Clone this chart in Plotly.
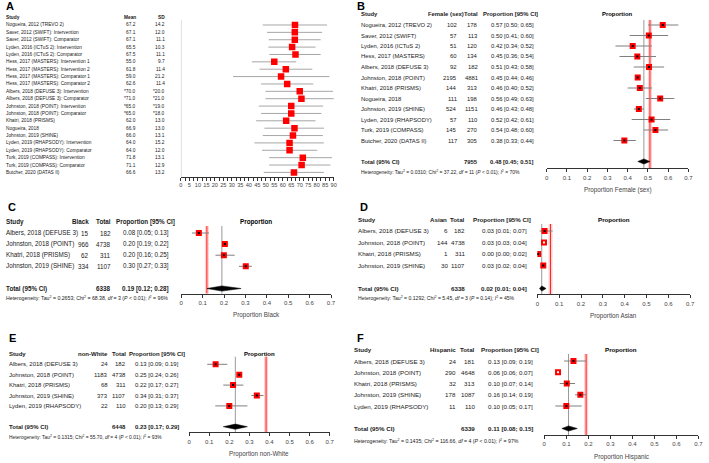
import plotly.graph_objects as go

W, H = 709, 463
FONT = "Liberation Sans, Arial, sans-serif"

# ---------------- Panel A: age (mean, SD) ----------------
a_studies = ["Nogueira, 2012 (TREVO 2)", "Saver, 2012 (SWIFT): Intervention", "Saver, 2012 (SWIFT): Comparator",
             "Lyden, 2016 (ICTuS 2): Intervention", "Lyden, 2016 (ICTuS 2): Comparator",
             "Hess, 2017 (MASTERS): Intervention 1", "Hess, 2017 (MASTERS): Intervention 2",
             "Hess, 2017 (MASTERS): Comparator 1", "Hess, 2017 (MASTERS): Comparator 2",
             "Albers, 2018 (DEFUSE 3): Intervention", "Albers, 2018 (DEFUSE 3): Comparator",
             "Johnston, 2018 (POINT): Intervention", "Johnston, 2018 (POINT): Comparator",
             "Khatri, 2018 (PRISMS)", "Nogueira, 2018", "Johnston, 2019 (SHINE)",
             "Lyden, 2019 (RHAPSODY): Intervention", "Lyden, 2019 (RHAPSODY): Comparator",
             "Turk, 2019 (COMPASS): Intervention", "Turk, 2019 (COMPASS): Comparator", "Butcher, 2020 (DATAS II)"]
a_mean = [67.2, 67.1, 67.1, 65.5, 67.5, 55.0, 61.8, 59.0, 62.6, 70.0, 71.0, 65.0, 65.0, 62.0, 66.9, 66.0,
          64.0, 64.0, 71.8, 71.1, 66.6]
a_sd = [14.2, 12.0, 11.1, 10.3, 11.1, 9.7, 11.4, 21.2, 11.4, 20.0, 21.0, 19.0, 18.0, 13.0, 13.0, 13.1,
        15.2, 12.0, 13.1, 12.9, 13.2]
a_estimated = [False] * 9 + [True] * 4 + [False] * 8
a_low = [48.2, 50.7, 51.7, 51.5, 52.1, 41.8, 46.3, 30.7, 47.2, 49.8, 49.8, 45.9, 47.2, 44.3, 49.2, 48.2,
         43.3, 47.8, 52.0, 52.0, 48.8]
a_high = [86.1, 83.2, 82.3, 79.3, 82.3, 67.9, 77.4, 87.5, 78.0, 89.6, 92.0, 83.8, 82.8, 79.3, 84.2, 83.6,
          84.2, 80.3, 89.0, 88.1, 84.2]
a_ticks = [i * 2.5 for i in range(37)]

# ---------------- Panel B: female ----------------
b_studies = ["Nogueira, 2012 (TREVO 2)", "Saver, 2012 (SWIFT)", "Lyden, 2016 (ICTuS 2)", "Hess, 2017 (MASTERS)",
             "Albers, 2018 (DEFUSE 3)", "Johnston, 2018 (POINT)", "Khatri, 2018 (PRISMS)", "Nogueira, 2018",
             "Johnston, 2019 (SHINE)", "Lyden, 2019 (RHAPSODY)", "Turk, 2019 (COMPASS)", "Butcher, 2020 (DATAS II)"]
b_events = [102, 57, 51, 60, 92, 2195, 144, 111, 524, 57, 145, 117]
b_total = [178, 113, 120, 134, 182, 4881, 313, 198, 1151, 110, 270, 305]
b_prop = [0.57, 0.50, 0.42, 0.45, 0.51, 0.45, 0.46, 0.56, 0.46, 0.52, 0.54, 0.38]
b_low = [0.50, 0.41, 0.34, 0.36, 0.43, 0.44, 0.40, 0.49, 0.43, 0.42, 0.48, 0.33]
b_high = [0.65, 0.60, 0.52, 0.54, 0.58, 0.46, 0.52, 0.63, 0.48, 0.61, 0.60, 0.44]
b_summary = dict(n=7955, est=0.48, lo=0.45, hi=0.51, tau2="0.0310", chi2="37.22", df=11, p="&lt; 0.01", i2=70)

# ---------------- Panel C: Black ----------------
c_studies = ["Albers, 2018 (DEFUSE 3)", "Johnston, 2018 (POINT)", "Khatri, 2018 (PRISMS)", "Johnston, 2019 (SHINE)"]
c_events = [15, 966, 62, 334]
c_total = [182, 4738, 311, 1107]
c_prop = [0.08, 0.20, 0.20, 0.30]
c_low = [0.05, 0.19, 0.16, 0.27]
c_high = [0.13, 0.22, 0.25, 0.33]
c_summary = dict(n=6338, est=0.19, lo=0.12, hi=0.28, tau2="0.2653", chi2="68.38", df=3, p="&lt; 0.01", i2=96)

# ---------------- Panel D: Asian ----------------
d_studies = ["Albers, 2018 (DEFUSE 3)", "Johnston, 2018 (POINT)", "Khatri, 2018 (PRISMS)", "Johnston, 2019 (SHINE)"]
d_events = [6, 144, 1, 30]
d_total = [182, 4738, 311, 1107]
d_prop = [0.03, 0.03, 0.00, 0.03]
d_low = [0.01, 0.03, 0.00, 0.02]
d_high = [0.07, 0.04, 0.02, 0.04]
d_summary = dict(n=6338, est=0.02, lo=0.01, hi=0.04, tau2="0.1292", chi2="5.45", df=3, p="= 0.14", i2=45)

# ---------------- Panel E: non-White ----------------
e_studies = ["Albers, 2018 (DEFUSE 3)", "Johnston, 2018 (POINT)", "Khatri, 2018 (PRISMS)", "Johnston, 2019 (SHINE)",
             "Lyden, 2019 (RHAPSODY)"]
e_events = [24, 1183, 68, 373, 22]
e_total = [182, 4738, 311, 1107, 110]
e_prop = [0.13, 0.25, 0.22, 0.34, 0.20]
e_low = [0.09, 0.24, 0.17, 0.31, 0.13]
e_high = [0.19, 0.26, 0.27, 0.37, 0.29]
e_summary = dict(n=6448, est=0.23, lo=0.17, hi=0.29, tau2="0.1315", chi2="55.70", df=4, p="&lt; 0.01", i2=93)

# ---------------- Panel F: Hispanic ----------------
f_studies = ["Albers, 2018 (DEFUSE 3)", "Johnston, 2018 (POINT)", "Khatri, 2018 (PRISMS)", "Johnston, 2019 (SHINE)",
             "Lyden, 2019 (RHAPSODY)"]
f_events = [24, 290, 32, 178, 11]
f_total = [181, 4648, 313, 1087, 110]
f_prop = [0.13, 0.06, 0.10, 0.16, 0.10]
f_low = [0.09, 0.06, 0.07, 0.14, 0.05]
f_high = [0.19, 0.07, 0.14, 0.19, 0.17]
f_summary = dict(n=6339, est=0.11, lo=0.08, hi=0.15, tau2="0.1435", chi2="116.66", df=4, p="&lt; 0.01", i2=97)

# reference (population) proportions shown as red lines
ref_values = {"B": 0.51, "C": 0.12, "D": 0.06, "E": 0.383, "F": 0.19}
prop_ticks = [0, 0.1, 0.2, 0.3, 0.4, 0.5, 0.6, 0.7]

# ---------------- layout geometry (pixels) ----------------
geo = {
    "A": dict(x0=180.7, x1=335.0, xmax=90, r1=25.0, sp=7.37, top=20.0, axis=176.7),
    "B": dict(x0=550.0, x1=693.3, xmax=0.7, r1=25.0, sp=10.5, top=20.0, axis=168.3, het=171.7,
              study=361, cnt=462, cnth=469, tot=482.5, prop=539.5, proph=543.5, fs=5.9, hfs=5.0,
              letter=(357, 5.5)),
    "C": dict(x0=181.0, x1=332.3, xmax=0.7, r1=233.0, sp=11.1, top=226.0, axis=293.7, het=297.7,
              study=2, cnt=90, cnth=90, tot=112, prop=171, proph=177, fs=6.3, hfs=5.2, letter=(4, 207)),
    "D": dict(x0=540.7, x1=695.0, xmax=0.7, r1=231.0, sp=11.5, top=224.0, axis=294.3, het=298.3,
              study=358, cnt=452, cnth=451, tot=470, prop=532, proph=536, fs=6.2, hfs=5.1, letter=(360, 207)),
    "E": dict(x0=189.0, x1=331.0, xmax=0.7, r1=364.3, sp=10.4, top=356.7, axis=432.3, het=436.7,
              study=5, cnt=109, cnth=109.5, tot=127, prop=181, proph=187, fs=6.0, hfs=4.9, letter=(5, 337.5)),
    "F": dict(x0=547.7, x1=703.3, xmax=0.7, r1=361.0, sp=11.25, top=354.0, axis=435.0, het=441.0,
              study=353, cnt=461, cnth=461, tot=480, prop=538, proph=544, fs=6.2, hfs=5.2, letter=(357, 337.5)),
}

def row_at(g, px):
    return (px - g["r1"]) / g["sp"] + 1

def dom_top(g):
    return g["r1"] - 1.6 * g["sp"]

fig = go.Figure()
annotations = []
shapes = []
layout_axes = {}

def axis_names(i):
    s = "" if i == 1 else str(i)
    return "x" + s, "y" + s, "xaxis" + s, "yaxis" + s

def add_text(text, xpx, yref, y, anchor="left", size=6.0, bold=False, color="#1a1a1a"):
    if bold:
        text = "<b>" + text + "</b>"
    annotations.append(dict(text=text, x=xpx / W, xref="paper", y=y, yref=yref, xanchor=anchor,
                            yanchor="middle", showarrow=False, font=dict(family=FONT, size=size, color=color)))

def setup_axes(i, g, tickvals, ticktext, tfs):
    xr, yr, xa, ya = axis_names(i)
    layout_axes[xa] = dict(domain=[g["x0"] / W, g["x1"] / W], range=[0, g["xmax"]], anchor=yr,
                           showline=True, linecolor="#333333", linewidth=1, ticks="outside", ticklen=3,
                           tickwidth=1, tickcolor="#333333", tickvals=tickvals, ticktext=ticktext,
                           tickfont=dict(family=FONT, size=tfs, color="#444444"), showgrid=False,
                           zeroline=False, fixedrange=True)
    layout_axes[ya] = dict(domain=[1 - g["axis"] / H, 1 - dom_top(g) / H],
                           range=[row_at(g, g["axis"]), row_at(g, dom_top(g))], anchor=xr,
                           showticklabels=False, ticks="", showgrid=False, zeroline=False,
                           showline=False, fixedrange=True)
    return xr, yr

def vline(xr, yr, g, xval, color, width):
    shapes.append(dict(type="line", xref=xr, yref=yr, x0=xval, x1=xval, y0=row_at(g, g["top"]),
                       y1=row_at(g, g["axis"]), line=dict(color=color, width=width), layer="below"))

# ---------- Panel A ----------
gA = geo["A"]
xr, yr = setup_axes(1, gA, a_ticks, [("%g" % v) if v % 5 == 0 else "" for v in a_ticks], 5.6)
vline(xr, yr, gA, 0, "#bbbbbb", 1)
rowsA = list(range(1, len(a_studies) + 1))
cx, cy = [], []
for r, lo, hi in zip(rowsA, a_low, a_high):
    cx += [lo, hi, None]
    cy += [r, r, None]
fig.add_trace(go.Scatter(x=cx, y=cy, xaxis=xr, yaxis=yr, mode="lines",
                         line=dict(color="#a6a6a6", width=1), hoverinfo="skip", showlegend=False))
fig.add_trace(go.Scatter(x=a_mean, y=rowsA, xaxis=xr, yaxis=yr, mode="markers",
                         marker=dict(symbol="square", size=6.5, color="#ff0000", line=dict(width=0)),
                         showlegend=False))
fsA = 4.8
add_text("Study", 2, yr, 0, size=fsA, bold=True)
add_text("Mean", 137, yr, 0, anchor="right", size=fsA, bold=True)
add_text("SD", 167, yr, 0, anchor="right", size=fsA, bold=True)
for r, s, m, sd, est in zip(rowsA, a_studies, a_mean, a_sd, a_estimated):
    star = "*" if est else ""
    add_text(s, 2, yr, r, size=fsA)
    add_text(star + "%.1f" % m, 137, yr, r, anchor="right", size=fsA)
    add_text(star + "%.1f" % sd, 167, yr, r, anchor="right", size=fsA)
annotations.append(dict(text="<b>A</b>", x=2 / W, xref="paper", y=1 - 5.5 / H, yref="paper", xanchor="left",
                        yanchor="middle", showarrow=False, font=dict(family=FONT, size=11, color="#000")))

# ---------- Proportion panels ----------
prop_panels = [
    ("B", "Female (sex)", "Proportion Female (sex)", b_studies, b_events, b_total, b_prop, b_low, b_high, b_summary),
    ("C", "Black", "Proportion Black", c_studies, c_events, c_total, c_prop, c_low, c_high, c_summary),
    ("D", "Asian", "Proportion Asian", d_studies, d_events, d_total, d_prop, d_low, d_high, d_summary),
    ("E", "non-White", "Proportion non-White", e_studies, e_events, e_total, e_prop, e_low, e_high, e_summary),
    ("F", "Hispanic", "Proportion Hispanic", f_studies, f_events, f_total, f_prop, f_low, f_high, f_summary),
]

for idx, (key, colname, xtitle, studies, events, totals, prop, low, high, summ) in enumerate(prop_panels, start=2):
    g = geo[key]
    xr, yr = setup_axes(idx, g, prop_ticks, ["%g" % v for v in prop_ticks], 6.0)
    rows = list(range(1, len(studies) + 1))
    trow = len(studies) + 2
    vline(xr, yr, g, summ["est"], "#9a9a9a", 1)
    vline(xr, yr, g, ref_values[key], "rgba(255,0,0,0.18)", 4)
    vline(xr, yr, g, ref_values[key], "#ff2020", 1)
    cx, cy = [], []
    for r, lo, hi in zip(rows, low, high):
        cx += [lo, hi, None]
        cy += [r, r, None]
    fig.add_trace(go.Scatter(x=cx, y=cy, xaxis=xr, yaxis=yr, mode="lines",
                             line=dict(color="#7f7f7f", width=1), hoverinfo="skip", showlegend=False))
    est_x = [e / t for e, t in zip(events, totals)]
    fig.add_trace(go.Scatter(x=est_x, y=rows, xaxis=xr, yaxis=yr, mode="markers",
                             marker=dict(symbol="square", size=6, color="#ff0000", line=dict(width=0)),
                             showlegend=False))
    centre_cols = ["#ffffff" if (hi - lo) <= 0.012 else "#000000" for lo, hi in zip(low, high)]
    fig.add_trace(go.Scatter(x=est_x, y=rows, xaxis=xr, yaxis=yr, mode="markers",
                             marker=dict(symbol="square", size=2, color=centre_cols, line=dict(width=0)),
                             showlegend=False))
    hh = 2.6 / g["sp"]
    fig.add_trace(go.Scatter(x=[summ["lo"], summ["est"], summ["hi"], summ["est"], summ["lo"]],
                             y=[trow, trow - hh, trow, trow + hh, trow], xaxis=xr, yaxis=yr, mode="lines",
                             fill="toself", fillcolor="#000000", line=dict(color="#000000", width=0.5),
                             showlegend=False))
    fs = g["fs"]
    add_text("Study", g["study"], yr, 0, size=fs, bold=True)
    add_text(colname, g["cnth"], yr, 0, anchor="right", size=fs, bold=True)
    add_text("Total", g["tot"], yr, 0, anchor="right", size=fs, bold=True)
    add_text("Proportion [95% CI]", g["proph"], yr, 0, anchor="right", size=fs, bold=True)
    add_text("Proportion", (g["x0"] + g["x1"]) / 2, yr, 0, anchor="center", size=fs, bold=True, color="#000000")
    for r, s, e, t, p, lo, hi in zip(rows, studies, events, totals, prop, low, high):
        add_text(s, g["study"], yr, r, size=fs)
        add_text(str(e), g["cnt"], yr, r, anchor="right", size=fs)
        add_text(str(t), g["tot"], yr, r, anchor="right", size=fs)
        add_text("%.2f [%.2f; %.2f]" % (p, lo, hi), g["prop"], yr, r, anchor="right", size=fs)
    add_text("Total (95% CI)", g["study"], yr, trow, size=fs, bold=True)
    add_text(str(summ["n"]), g["tot"], yr, trow, anchor="right", size=fs, bold=True)
    add_text("%.2f [%.2f; %.2f]" % (summ["est"], summ["lo"], summ["hi"]), g["prop"], yr, trow, anchor="right",
             size=fs, bold=True)
    het = ("Heterogeneity: Tau<sup>2</sup> = %s; Chi<sup>2</sup> = %s, <i>df</i> = %d (<i>P</i> %s); "
           "<i>I</i><sup>2</sup> = %d%%" % (summ["tau2"], summ["chi2"], summ["df"], summ["p"], summ["i2"]))
    add_text(het, g["study"], "paper", 1 - g["het"] / H, size=g["hfs"])
    annotations.append(dict(text=xtitle, x=(g["x0"] + g["x1"]) / 2 / W, xref="paper",
                            y=1 - (g["axis"] + 21.5) / H, yref="paper", xanchor="center", yanchor="middle",
                            showarrow=False, font=dict(family=FONT, size=6.3, color="#444444")))
    lx, ly = g["letter"]
    annotations.append(dict(text="<b>%s</b>" % key, x=lx / W, xref="paper", y=1 - ly / H, yref="paper",
                            xanchor="left", yanchor="middle", showarrow=False,
                            font=dict(family=FONT, size=11, color="#000")))

fig.update_layout(width=W, height=H, margin=dict(l=0, r=0, t=0, b=0), paper_bgcolor="white",
                  plot_bgcolor="white", showlegend=False, annotations=annotations, shapes=shapes,
                  font=dict(family=FONT), **layout_axes)
fig.write_html("out.html", config={"displayModeBar": False, "staticPlot": True},
               post_script="document.body.style.margin='0px';document.body.style.overflow='hidden';")
